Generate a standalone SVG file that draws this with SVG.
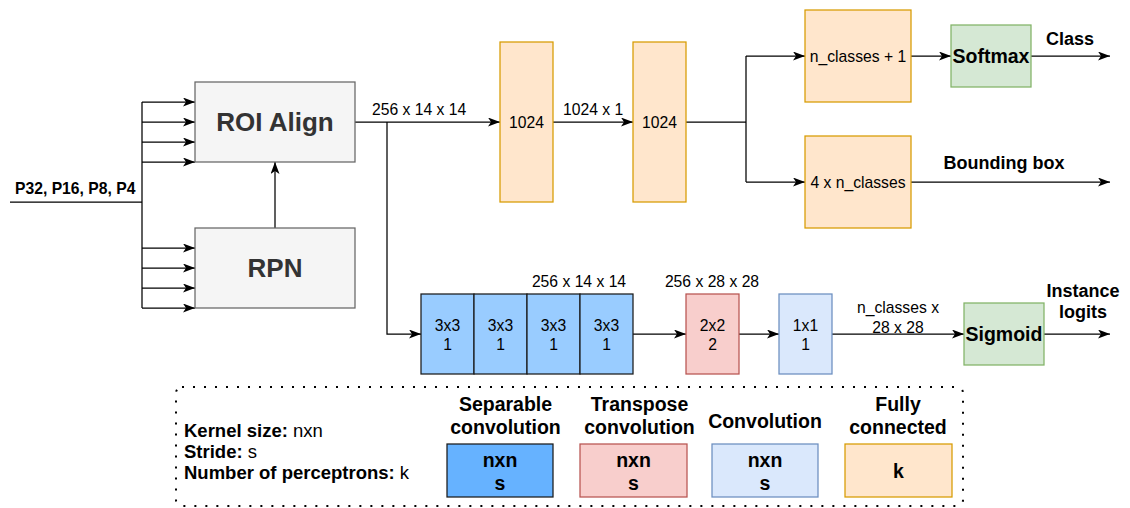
<svg xmlns="http://www.w3.org/2000/svg" width="1130" height="508" viewBox="0 0 1130 508">
  <defs>
    <marker id="arrow" markerUnits="userSpaceOnUse" markerWidth="12" markerHeight="10" refX="12" refY="4.5" orient="auto">
      <path d="M0,0 L12,4.5 L0,9 L3,4.5 z" fill="#000"/>
    </marker>
    <style>
      text { font-family: "Liberation Sans", Arial, sans-serif; fill: #000; }
      .c { text-anchor: middle; }
      .b { font-weight: bold; }
      .s15 { font-size: 15.7px; }
      .s18 { font-size: 18px; }
      .s185 { font-size: 18.5px; }
      .s19 { font-size: 19.5px; }
      .big { font-size: 26px; font-weight: bold; fill: #333; }
      .gray { fill: #f5f5f5; stroke: #666666; stroke-width: 1.25; }
      .fc { fill: #ffe6cc; stroke: #d79b00; stroke-width: 1.25; }
      .act { fill: #d5e8d4; stroke: #82b366; stroke-width: 1.25; }
      .tconv { fill: #f8cecc; stroke: #b85450; stroke-width: 1.25; }
      .conv { fill: #dae8fc; stroke: #6c8ebf; stroke-width: 1.25; }
      .sep { fill: #99ccff; stroke: #1a1a1a; stroke-width: 1.25; }
      .sepkey { fill: #66b2ff; stroke: #1a1a1a; stroke-width: 1.25; }
      .edge { fill: none; stroke: #000; stroke-width: 1.25; }
      .arr { marker-end: url(#arrow); }
    </style>
  </defs>

  <!-- connectors -->
  <g id="connectors">
    <!-- feature maps into the bus -->
    <path class="edge" d="M10,202 H142 M142,102 V308"/>
    <path class="edge arr" d="M142,102 H195"/>
    <path class="edge arr" d="M142,122 H195"/>
    <path class="edge arr" d="M142,142 H195"/>
    <path class="edge arr" d="M142,162 H195"/>
    <path class="edge arr" d="M142,248 H195"/>
    <path class="edge arr" d="M142,268 H195"/>
    <path class="edge arr" d="M142,288 H195"/>
    <path class="edge arr" d="M142,308 H195"/>
    <!-- RPN to ROI Align -->
    <path class="edge arr" d="M275,228 V162"/>
    <!-- box head -->
    <path class="edge arr" d="M355,122 H500"/>
    <path class="edge arr" d="M553,122 H633"/>
    <path class="edge" d="M686,122 H746 M746,56 V182"/>
    <path class="edge arr" d="M746,56 H805"/>
    <path class="edge arr" d="M746,182 H805"/>
    <path class="edge arr" d="M911,56 H951"/>
    <path class="edge arr" d="M1031,56 H1110"/>
    <path class="edge arr" d="M911,182 H1110"/>
    <!-- mask head -->
    <path class="edge arr" d="M387,122 V334 H421"/>
    <path class="edge arr" d="M633,334 H686"/>
    <path class="edge arr" d="M739,334 H779"/>
    <path class="edge arr" d="M832,334 H964"/>
    <path class="edge arr" d="M1044,334 H1110"/>
  </g>

  <!-- connector labels -->
  <g id="edge-labels">
    <text class="b s15" x="15" y="194">P32, P16, P8, P4</text>
    <text class="s15" x="372" y="115">256 x 14 x 14</text>
    <text class="s15" x="563" y="115">1024 x 1</text>
    <text class="b s18 c" x="1070" y="45">Class</text>
    <text class="b s18 c" x="1004" y="169">Bounding box</text>
    <text class="s15 c" x="579" y="287">256 x 14 x 14</text>
    <text class="s15 c" x="712" y="287">256 x 28 x 28</text>
    <text class="s15 c" x="898" y="313">n_classes x</text>
    <text class="s15 c" x="898" y="333">28 x 28</text>
    <text class="b s18 c" x="1083" y="297">Instance</text>
    <text class="b s18 c" x="1083" y="318">logits</text>
  </g>

  <g id="roi-align">
    <rect class="gray" x="195" y="82" width="160" height="80"/>
    <text class="big c" x="275" y="131">ROI Align</text>
  </g>
  <g id="rpn">
    <rect class="gray" x="195" y="228" width="160" height="80"/>
    <text class="big c" x="275" y="277">RPN</text>
  </g>

  <g id="fc1">
    <rect class="fc" x="500" y="42" width="53" height="160"/>
    <text class="s15 c" x="526.5" y="127.5">1024</text>
  </g>
  <g id="fc2">
    <rect class="fc" x="633" y="42" width="53" height="160"/>
    <text class="s15 c" x="659.5" y="127.5">1024</text>
  </g>
  <g id="fc-class">
    <rect class="fc" x="805" y="10" width="106" height="92"/>
    <text class="s15 c" x="858" y="61.5">n_classes + 1</text>
  </g>
  <g id="fc-bbox">
    <rect class="fc" x="805" y="136" width="106" height="92"/>
    <text class="s15 c" x="858" y="187.5">4 x n_classes</text>
  </g>
  <g id="softmax">
    <rect class="act" x="951" y="25" width="80" height="62"/>
    <text class="b s19 c" x="991" y="63">Softmax</text>
  </g>

  <g id="sepconv1">
    <rect class="sep" x="421" y="294" width="53" height="80"/>
    <text class="s15 c" x="447.5" y="331">3x3</text>
    <text class="s15 c" x="447.5" y="350">1</text>
  </g>
  <g id="sepconv2">
    <rect class="sep" x="474" y="294" width="53" height="80"/>
    <text class="s15 c" x="500.5" y="331">3x3</text>
    <text class="s15 c" x="500.5" y="350">1</text>
  </g>
  <g id="sepconv3">
    <rect class="sep" x="527" y="294" width="53" height="80"/>
    <text class="s15 c" x="553.5" y="331">3x3</text>
    <text class="s15 c" x="553.5" y="350">1</text>
  </g>
  <g id="sepconv4">
    <rect class="sep" x="580" y="294" width="53" height="80"/>
    <text class="s15 c" x="606.5" y="331">3x3</text>
    <text class="s15 c" x="606.5" y="350">1</text>
  </g>
  <g id="transpose-conv">
    <rect class="tconv" x="686" y="294" width="53" height="80"/>
    <text class="s15 c" x="712.5" y="331">2x2</text>
    <text class="s15 c" x="712.5" y="350">2</text>
  </g>
  <g id="conv1x1">
    <rect class="conv" x="779" y="294" width="53" height="80"/>
    <text class="s15 c" x="805.5" y="331">1x1</text>
    <text class="s15 c" x="805.5" y="350">1</text>
  </g>
  <g id="sigmoid">
    <rect class="act" x="964" y="303" width="80" height="62"/>
    <text class="b s19 c" x="1004" y="341">Sigmoid</text>
  </g>

  <!-- legend -->
  <g id="legend">
    <rect x="176" y="387" width="787" height="119" rx="6" fill="none" stroke="#000" stroke-width="2" stroke-dasharray="2 9"/>
    <text class="s185" x="184" y="437"><tspan class="b">Kernel size:</tspan> nxn</text>
    <text class="s185" x="184" y="458"><tspan class="b">Stride:</tspan> s</text>
    <text class="s185" x="184" y="479"><tspan class="b">Number of perceptrons:</tspan> k</text>

    <text class="b s19 c" x="505.5" y="411">Separable</text>
    <text class="b s19 c" x="505.5" y="434">convolution</text>
    <rect class="sepkey" x="447" y="444" width="106" height="53"/>
    <text class="b s19 c" x="500" y="467">nxn</text>
    <text class="b s19 c" x="500" y="490">s</text>

    <text class="b s19 c" x="639.5" y="411">Transpose</text>
    <text class="b s19 c" x="639.5" y="434">convolution</text>
    <rect class="tconv" x="580" y="444" width="107" height="53"/>
    <text class="b s19 c" x="633.5" y="467">nxn</text>
    <text class="b s19 c" x="633.5" y="490">s</text>

    <text class="b s19 c" x="765" y="428">Convolution</text>
    <rect class="conv" x="712" y="444" width="106" height="53"/>
    <text class="b s19 c" x="765" y="467">nxn</text>
    <text class="b s19 c" x="765" y="490">s</text>

    <text class="b s19 c" x="898" y="411">Fully</text>
    <text class="b s19 c" x="898" y="434">connected</text>
    <rect class="fc" x="845" y="444" width="107" height="53"/>
    <text class="b s19 c" x="898.5" y="477.5">k</text>
  </g>
</svg>
